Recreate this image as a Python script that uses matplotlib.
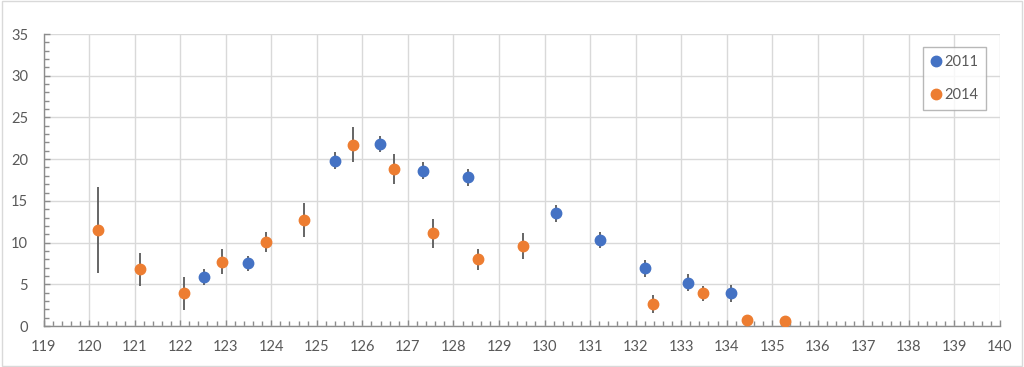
import matplotlib.pyplot as plt
from matplotlib.patches import Rectangle
from matplotlib.lines import Line2D
from matplotlib.ticker import MultipleLocator

plt.rcParams['font.family'] = ['Lato', 'DejaVu Sans']

# 2011 series
x_2011 = [122.53, 123.48, 125.41, 126.38, 127.34, 128.31, 130.25, 131.21, 132.2, 133.16, 134.1]
y_2011 = [5.85, 7.5, 19.8, 21.8, 18.6, 17.8, 13.5, 10.3, 6.9, 5.2, 3.9]
err_2011 = [0.95, 0.95, 1.0, 1.0, 1.0, 1.0, 1.0, 0.95, 1.0, 1.0, 1.0]

# 2014 series
x_2014 = [120.2, 121.12, 122.09, 122.92, 123.88, 124.72, 125.8, 126.7, 127.56, 128.55, 129.52,
          132.39, 133.48, 134.44, 135.29]
y_2014 = [11.5, 6.8, 3.9, 7.7, 10.1, 12.7, 21.7, 18.85, 11.1, 8.0, 9.6, 2.65, 3.9, 0.72, 0.6]
err_2014 = [5.2, 2.0, 2.0, 1.5, 1.2, 2.0, 2.1, 1.8, 1.7, 1.25, 1.6, 1.05, 0.9, 0.25, 0.3]

blue = '#4472C4'
orange = '#ED7D31'
text_col = '#595959'

fig = plt.figure(figsize=(10.24, 3.67), dpi=100)
ax = fig.add_axes([43.5 / 1024, 41 / 367, 956.5 / 1024, 292 / 367])

ax.errorbar(x_2011, y_2011, yerr=err_2011, fmt='o', color=blue, ms=7.5,
            ecolor='#595959', elinewidth=1.3, capsize=0, zorder=3)
ax.errorbar(x_2014, y_2014, yerr=err_2014, fmt='o', color=orange, ms=7.5,
            ecolor='#595959', elinewidth=1.3, capsize=0, zorder=3)

ax.set_xlim(119, 140)
ax.set_ylim(0, 35)
ax.xaxis.set_major_locator(MultipleLocator(1))
ax.xaxis.set_minor_locator(MultipleLocator(0.2))
ax.yaxis.set_major_locator(MultipleLocator(5))
ax.yaxis.set_minor_locator(MultipleLocator(1))

ax.grid(True, which='major', color='#D9D9D9', lw=1)
ax.set_axisbelow(True)

for side in ['top', 'right']:
    ax.spines[side].set_visible(False)
for side in ['left', 'bottom']:
    ax.spines[side].set_color('#8C8C8C')
    ax.spines[side].set_linewidth(1)

ax.tick_params(which='both', direction='in', color='#8C8C8C', labelcolor=text_col,
               labelsize=10.5)
ax.tick_params(which='major', length=4, width=1)
ax.tick_params(which='minor', length=3.5, width=1)
ax.tick_params(axis='y', pad=11)
ax.tick_params(axis='x', pad=10)

handles = [Line2D([], [], ls='', marker='o', color=blue, ms=7.5, label='2011'),
           Line2D([], [], ls='', marker='o', color=orange, ms=7.5, label='2014')]
leg = ax.legend(handles=handles, loc='upper right', bbox_to_anchor=(0.9854, 0.955),
                borderaxespad=0, frameon=True, fancybox=False, edgecolor='#A6A6A6',
                fontsize=10.5, labelcolor=text_col, handletextpad=0.2, borderpad=0.55,
                labelspacing=1.3, handlelength=0.7)
leg.get_frame().set_linewidth(1)

fig.patches.append(Rectangle((0.002, 0.004), 0.996, 0.992, transform=fig.transFigure,
                             fill=False, edgecolor='#D9D9D9', lw=1))

fig.savefig('out.png', dpi=100)
